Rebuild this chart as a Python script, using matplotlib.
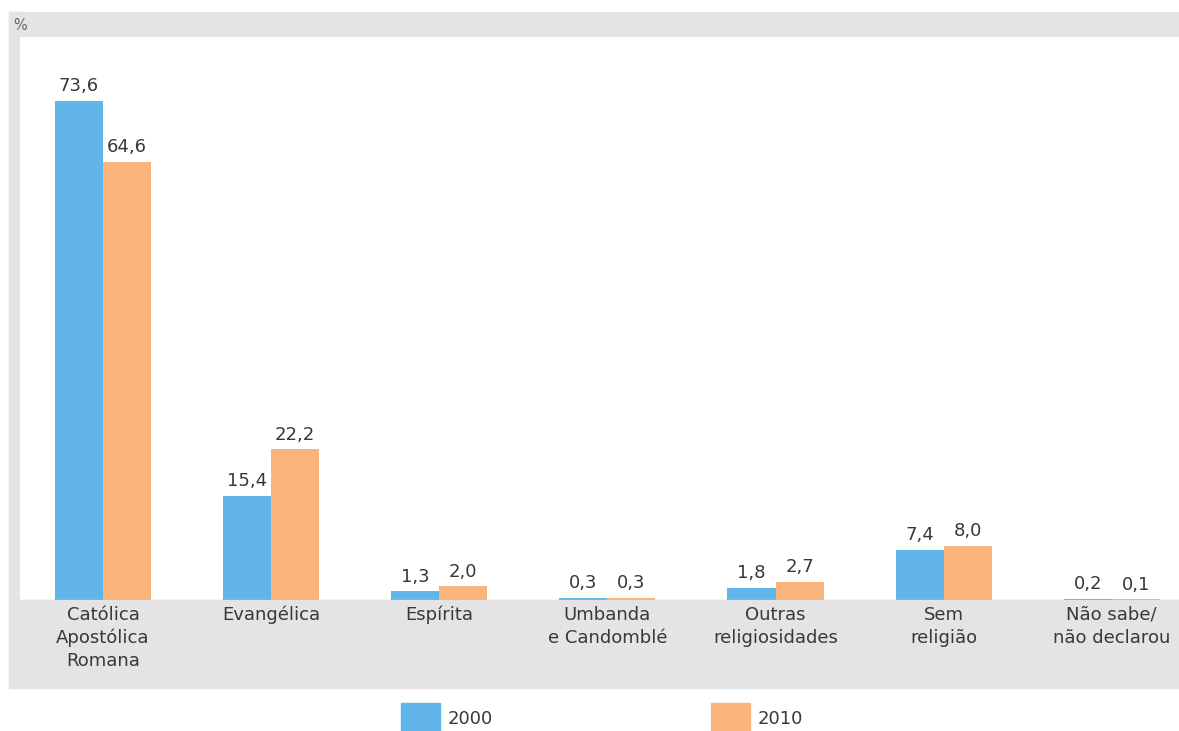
import matplotlib.pyplot as plt
import numpy as np
from matplotlib.patches import Rectangle

plt.rcParams['font.family'] = ['DejaVu Sans']

categories = [
    "Católica\nApostólica\nRomana",
    "Evangélica",
    "Espírita",
    "Umbanda\ne Candomblé",
    "Outras\nreligiosidades",
    "Sem\nreligião",
    "Não sabe/\nnão declarou",
]
values_2000 = [73.6, 15.4, 1.3, 0.3, 1.8, 7.4, 0.2]
values_2010 = [64.6, 22.2, 2.0, 0.3, 2.7, 8.0, 0.1]
series_names = ["2000", "2010"]

blue = "#62b5ea"
orange = "#fbb57c"
band = "#e4e4e7"
text_col = "#383838"

W, H = 1179, 731
fig = plt.figure(figsize=(W / 100, H / 100), dpi=100)

# gray frame bands (top, left, bottom)
for r in [(9, 12, W, 25), (9, 12, 11, 676), (9, 600, W, 88)]:
    fig.patches.append(Rectangle((r[0] / W, 1 - (r[1] + r[3]) / H), r[2] / W, r[3] / H,
                                 transform=fig.transFigure, color=band, zorder=-5))

ax = fig.add_axes([20 / W, 1 - 600 / H, 1 - 20 / W, (600 - 37) / H])
ax.set_facecolor("white")
ax.set_zorder(1)

x = np.arange(len(categories))
w = 0.286
b1 = ax.bar(x - w / 2, values_2000, w, color=blue)
b2 = ax.bar(x + w / 2, values_2010, w, color=orange)

for bars, vals in [(b1, values_2000), (b2, values_2010)]:
    for bar, v in zip(bars, vals):
        ax.annotate(f"{v:.1f}".replace(".", ","),
                    (bar.get_x() + bar.get_width() / 2, bar.get_height()),
                    xytext=(0, 4), textcoords="offset points",
                    ha="center", va="bottom", fontsize=13, color=text_col)

ax.set_xlim(-0.494, 6.4)
ax.set_ylim(0, 83)
ax.set_yticks([])
ax.set_xticks(x)
ax.set_xticklabels(categories, fontsize=13, color=text_col, linespacing=1.36)
ax.tick_params(axis="x", length=0, pad=4)
for s in ax.spines.values():
    s.set_visible(False)
ax.axhline(0, color="#c8c8c8", lw=1)

fig.text(13 / W, 1 - 25 / H, "%", fontsize=10.5, color="#666666", va="center")

# legend
fig.patches.append(Rectangle((401 / W, 0), 39 / W, 28 / H, transform=fig.transFigure,
                             color=blue))
fig.patches.append(Rectangle((711 / W, 0), 39 / W, 28 / H, transform=fig.transFigure,
                             color=orange))
fig.text(448 / W, 1 - 719 / H, series_names[0], fontsize=13, color=text_col, va="center")
fig.text(758 / W, 1 - 719 / H, series_names[1], fontsize=13, color=text_col, va="center")

plt.savefig("out.png", dpi=100)
